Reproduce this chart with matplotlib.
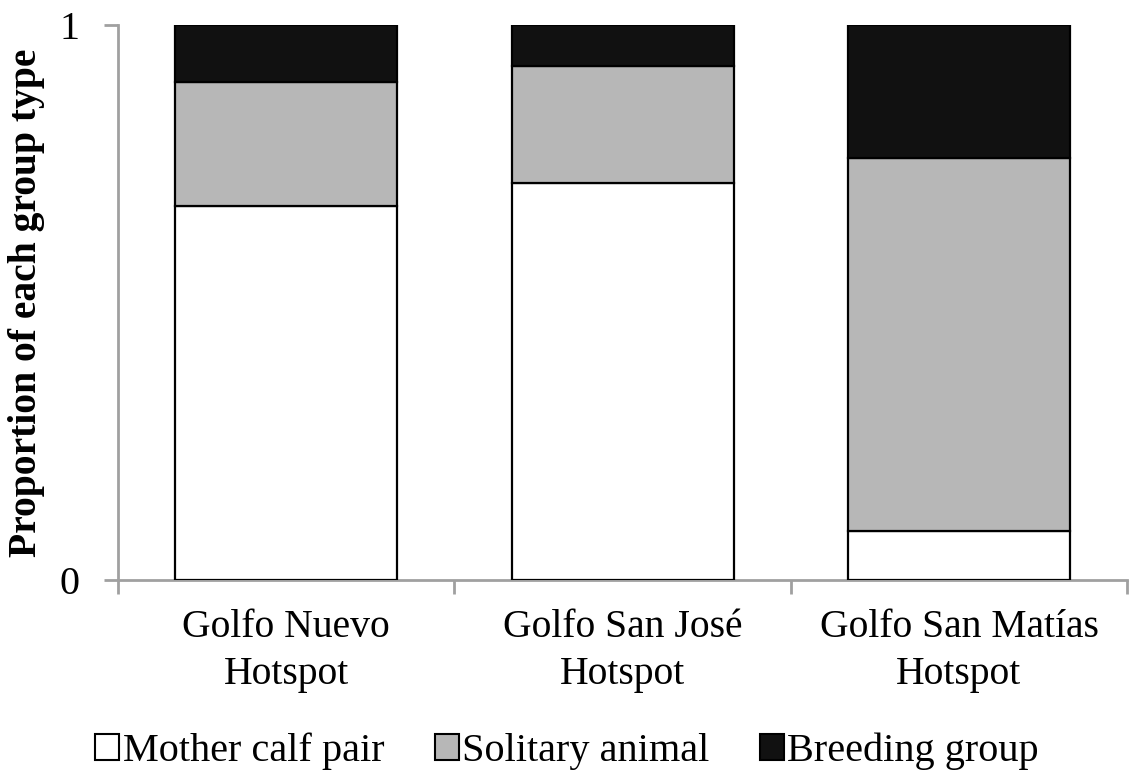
import numpy as np
import matplotlib
matplotlib.use("Agg")
import matplotlib.pyplot as plt
from matplotlib.patches import Patch

plt.rcParams['font.family'] = ['Liberation Serif', 'DejaVu Serif']

sites = ["Golfo Nuevo\nHotspot", "Golfo San José\nHotspot", "Golfo San Matías\nHotspot"]
mother_calf = [0.674, 0.715, 0.088]
solitary = [0.223, 0.211, 0.672]
breeding = [0.103, 0.074, 0.240]

series = ["Mother calf pair", "Solitary animal", "Breeding group"]
colors = ["#ffffff", "#b7b7b7", "#111111"]

fig = plt.figure(figsize=(11.34, 7.74), dpi=100)
ax = fig.add_axes([0.104, 0.2506, 0.890, 0.717])

x = np.arange(len(sites))
bottom = np.zeros(len(sites))
for vals, col in zip([mother_calf, solitary, breeding], colors):
    ax.bar(x, vals, width=0.66, bottom=bottom, color=col,
           edgecolor="black", linewidth=1.6, zorder=3)
    bottom += np.array(vals)

ax.set_xlim(-0.5, 2.5)
ax.set_ylim(0, 1)
ax.set_yticks([0, 1])
ax.set_yticklabels(["0", "1"], fontsize=29)
ax.set_xticks(x)
ax.set_xticklabels(sites, fontsize=28.5, linespacing=1.36)
ax.set_xticks([-0.5, 0.5, 1.5, 2.5], minor=True)
ax.tick_params(axis="x", which="major", length=0, pad=21)
ax.tick_params(axis="x", which="minor", length=10, width=2, color="#a0a0a0")
ax.tick_params(axis="y", length=10, width=2, color="#a0a0a0", pad=18)

for s in ["top", "right"]:
    ax.spines[s].set_visible(False)
for s in ["left", "bottom"]:
    ax.spines[s].set_color("#a0a0a0")
    ax.spines[s].set_linewidth(2)

ax.set_ylabel("Proportion of each group type", fontsize=28.5, fontweight="bold", labelpad=10)

handles = [Patch(facecolor=c, edgecolor="black", linewidth=1.5) for c in colors]
fig.legend(handles, series, loc="lower center", bbox_to_anchor=(0.5, -0.042),
           ncol=3, frameon=False, fontsize=29, handlelength=0.6, handleheight=0.6,
           handletextpad=0.08, columnspacing=1.25)

fig.savefig("out.png", dpi=100)
